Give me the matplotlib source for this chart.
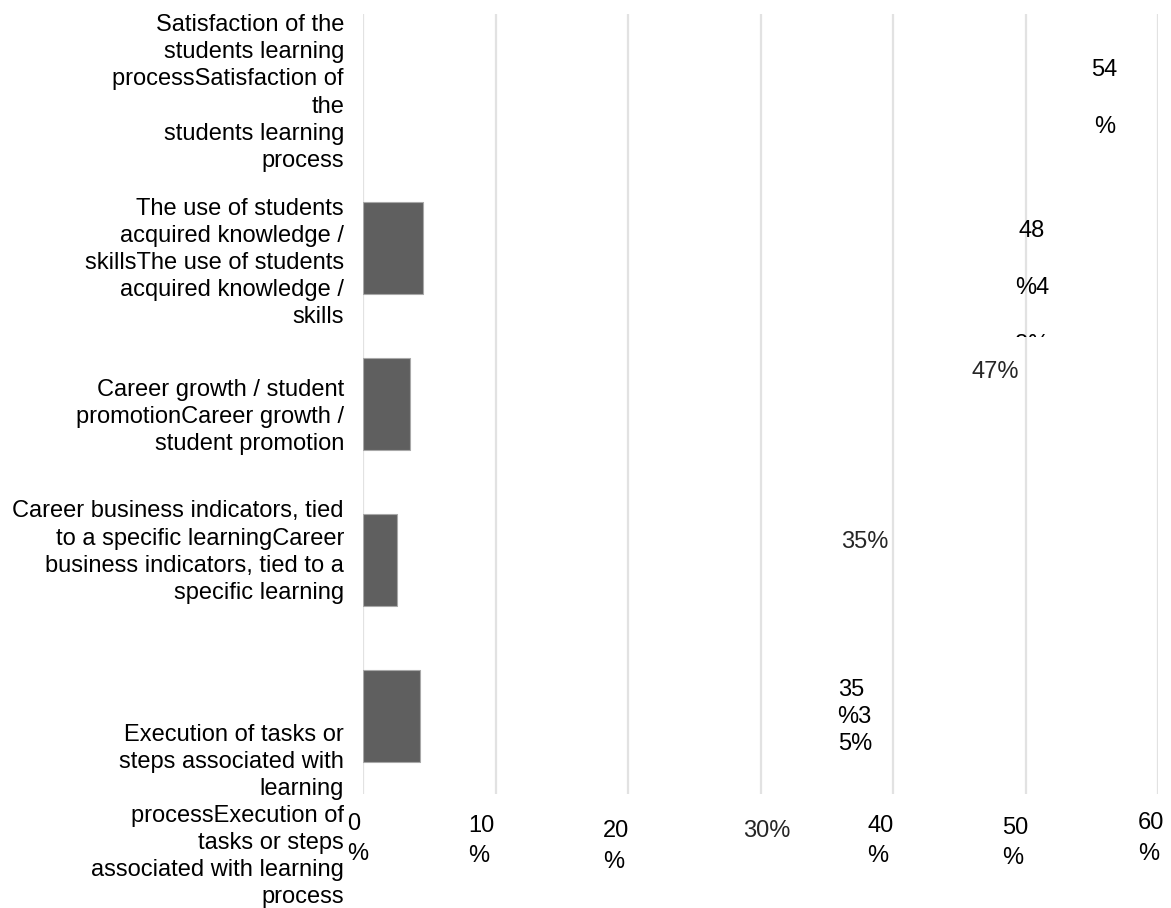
import matplotlib
matplotlib.use("Agg")
import matplotlib.pyplot as plt
from matplotlib.transforms import ScaledTranslation, Bbox, TransformedBbox

# ---- data ----
categories = [
    "Satisfaction of the\nstudents learning\nprocessSatisfaction of\nthe\nstudents learning\nprocess",
    "The use of students\nacquired knowledge /\nskillsThe use of students\nacquired knowledge /\nskills",
    "Career growth / student\npromotionCareer growth /\nstudent promotion",
    "Career business indicators, tied\nto a specific learningCareer\nbusiness indicators, tied to a\nspecific learning",
    "Execution of tasks or\nsteps associated with\nlearning\nprocessExecution of\ntasks or steps\nassociated with learning\nprocess",
]
bar_values = [0.0, 4.5, 3.55, 2.6, 4.3]
label_values = [54, 48, 47, 35, 35]
value_texts = ["54\n%", "48\n%4\n8%", "47%", "35%", "35\n%3\n5%"]
x_ticks = [0, 10, 20, 30, 40, 50, 60]
x_tick_labels = ["0\n%", "10\n%", "20\n%", "30%", "40\n%", "50\n%", "60\n%"]

W, H = 1171, 908
fig = plt.figure(figsize=(W / 100, H / 100), dpi=100)
ax = fig.add_axes([363 / W, (H - 794) / H, (1158 - 363) / W, (794 - 14) / H])

FONT = "Liberation Sans"
FS = 17
PX = 0.72  # points per pixel at 100 dpi

ypos = list(range(len(categories)))
edge = ["none" if v == 0 else "#a8a8a8" for v in bar_values]
ax.barh(ypos, bar_values, height=0.59, color="#5f5f5f", edgecolor=edge,
        linewidth=0.8, zorder=3)
ax.set_xlim(0, 60)
ax.set_ylim(len(categories) - 0.5, -0.5)

ax.grid(axis="x", color="#e2e2e2", linewidth=1.6, zorder=0)
ax.set_axisbelow(True)
for s in ax.spines.values():
    s.set_visible(False)

# y tick labels (categories)
ax.set_yticks(ypos)
ax.set_yticklabels(categories, fontsize=FS, family=FONT, linespacing=1.3)
ax.tick_params(axis="y", length=0, pad=19 * PX)
cat_dy = [-4, 10, 8, -13, 95]  # px, positive = down
for lab, dy in zip(ax.get_yticklabels(), cat_dy):
    lab.set_transform(lab.get_transform() + ScaledTranslation(0, -dy / 100, fig.dpi_scale_trans))

# x tick labels
ax.set_xticks(x_ticks)
ax.set_xticklabels(x_tick_labels, fontsize=FS, family=FONT, linespacing=1.5)
ax.tick_params(axis="x", length=0, pad=0)
tick_dx = [-16, -27, -25, 6, -26, -23, -20]
tick_dy = [19, 21, 26, 26, 21, 23, 18]
for lab, txt, dx, dy in zip(ax.get_xticklabels(), x_tick_labels, tick_dx, tick_dy):
    if "\n" in txt:
        lab.set_ha("left")
    else:
        lab.set_ha("center")
        lab.set_color("#262626")
    lab.set_va("top")
    lab.set_transform(lab.get_transform() + ScaledTranslation(dx / 100, -dy / 100, fig.dpi_scale_trans))

# value labels
val_dx = [26, 33, 10, 38, 28]
val_dy = [6.5, 40, -32, -18, 1]
val_ls = [3.05, 3.05, 1.3, 1.3, 1.3]
val_col = ["black", "black", "#262626", "#262626", "black"]
clip = TransformedBbox(Bbox([[0, (H - 337) / H], [1, 1]]), fig.transFigure)
for i, (v, t) in enumerate(zip(label_values, value_texts)):
    a = ax.annotate(t, xy=(v, ypos[i]), xytext=(val_dx[i] * PX, -val_dy[i] * PX),
                    textcoords="offset points", ha="center", va="center",
                    fontsize=FS, family=FONT, linespacing=val_ls[i],
                    color=val_col[i], zorder=4)
    if i == 4:
        a.set_multialignment("left")
    if i == 1:
        a.set_clip_path(None)
        a.set_clip_box(clip)
        a.set_clip_on(True)

fig.savefig("out.png", dpi=100)
